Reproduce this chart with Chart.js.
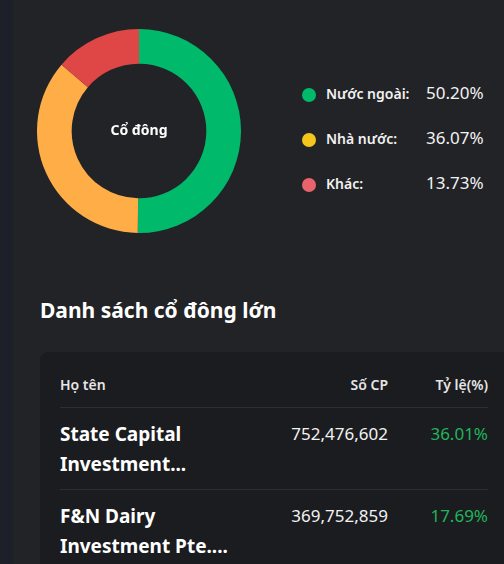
<!DOCTYPE html>
<html>
<head>
<meta charset="utf-8">
<script src="https://cdn.jsdelivr.net/npm/chart.js@4.4.0/dist/chart.umd.min.js"></script>
<style>
    html, body { margin: 0; padding: 0; }
    body {
        width: 504px; height: 564px; overflow: hidden; position: relative;
        background: #222326; font-family: "Noto Sans", "Open Sans", sans-serif; color: #fff;
    }
    .strip { position: absolute; left: 0; top: 0; width: 13px; height: 564px; background: #1e2029; }
    .chartBox { position: absolute; left: 37px; top: 29px; width: 204px; height: 204px; }
    .legend { position: absolute; left: 302px; top: 80px; white-space: nowrap; }
    .legend .row { position: relative; height: 45px; }
    .legend .dot { position: absolute; left: 0; top: 8px; width: 14px; height: 14px; border-radius: 50%; }
    .legend .lbl { position: absolute; left: 24px; top: 4px; font-size: 14px; font-weight: 600; color: #f2f2f2; }
    .legend .val { position: absolute; left: 124px; top: 1px; font-size: 17px; color: #f2f2f2; }
    h2 { position: absolute; left: 40px; top: 296px; margin: 0; font-size: 21px; font-weight: 700; color: #fff; white-space: nowrap; }
    .card { position: absolute; left: 40px; top: 352px; width: 480px; height: 240px; background: #1b1c1f; border-radius: 8px; }
    table { position: absolute; left: 20px; top: 19px; width: 428px; border-collapse: collapse; }
    th { font-size: 14px; font-weight: 600; color: #e6e6e6; padding: 4px 0 13px 0; text-align: left; border-bottom: 1px solid #2c2e33; white-space: nowrap; }
    th.r, td.r { text-align: right; }
    td { vertical-align: top; padding: 11px 0 10px 0; border-bottom: 1px solid #2c2e33; }
    td.name { font-size: 19px; font-weight: 700; line-height: 30px; color: #fff; }
    td.num { font-size: 17px; color: #f2f2f2; line-height: 30px; }
    td.pct { font-size: 17px; color: #1fb55a; line-height: 30px; }
</style>
</head>
<body>
<div class="strip"></div>
<div class="chartBox"><canvas id="shareChart"></canvas></div>
<div class="legend" id="legend"></div>
<h2>Danh sách cổ đông lớn</h2>
<div class="card">
    <table>
        <thead><tr><th>Họ tên</th><th class="r">Số CP</th><th class="r" style="width:100px">Tỷ lệ(%)</th></tr></thead>
        <tbody id="holders"></tbody>
    </table>
</div>
<script>
// Cơ cấu cổ đông
const groupLabels = ['Nước ngoài:', 'Nhà nước:', 'Khác:'];
const groupValues = [50.20, 36.07, 13.73];
const ringColors = ['#00b96b', '#ffad46', '#df4646'];
const dotColors = ['#00b96b', '#f4c51d', '#e8636b'];

// Danh sách cổ đông lớn
const holderNames = ['State Capital<br>Investment...', 'F&amp;N Dairy<br>Investment Pte....'];
const holderShares = ['752,476,602', '369,752,859'];
const holderPcts = ['36.01%', '17.69%'];

// Chữ ở giữa vòng
const centerText = {
    id: 'centerText',
    afterDraw(chart) {
        const { ctx, chartArea } = chart;
        const x = (chartArea.left + chartArea.right) / 2;
        const y = (chartArea.top + chartArea.bottom) / 2;
        ctx.save();
        ctx.font = '700 14px "Noto Sans", sans-serif';
        ctx.fillStyle = '#ffffff';
        ctx.textAlign = 'center';
        ctx.textBaseline = 'middle';
        ctx.fillText('Cổ đông', x, y);
        ctx.restore();
    }
};

new Chart(document.getElementById('shareChart'), {
    type: 'doughnut',
    data: {
        labels: groupLabels,
        datasets: [{
            data: groupValues,
            backgroundColor: ringColors,
            borderWidth: 0
        }]
    },
    options: {
        responsive: true,
        maintainAspectRatio: false,
        animation: false,
        cutout: '66%',
        layout: { padding: 0 },
        plugins: {
            legend: { display: false },
            tooltip: { enabled: false }
        }
    },
    plugins: [centerText]
});

// Chú thích
const legend = document.getElementById('legend');
groupLabels.forEach((label, i) => {
    legend.innerHTML += `<div class="row"><span class="dot" style="background:${dotColors[i]}"></span>` +
        `<span class="lbl">${label}</span><span class="val">${groupValues[i].toFixed(2)}%</span></div>`;
});

// Bảng cổ đông
const holders = document.getElementById('holders');
holderNames.forEach((name, i) => {
    holders.innerHTML += `<tr><td class="name">${name}</td><td class="num r">${holderShares[i]}</td>` +
        `<td class="pct r">${holderPcts[i]}</td></tr>`;
});
</script>
</body>
</html>
